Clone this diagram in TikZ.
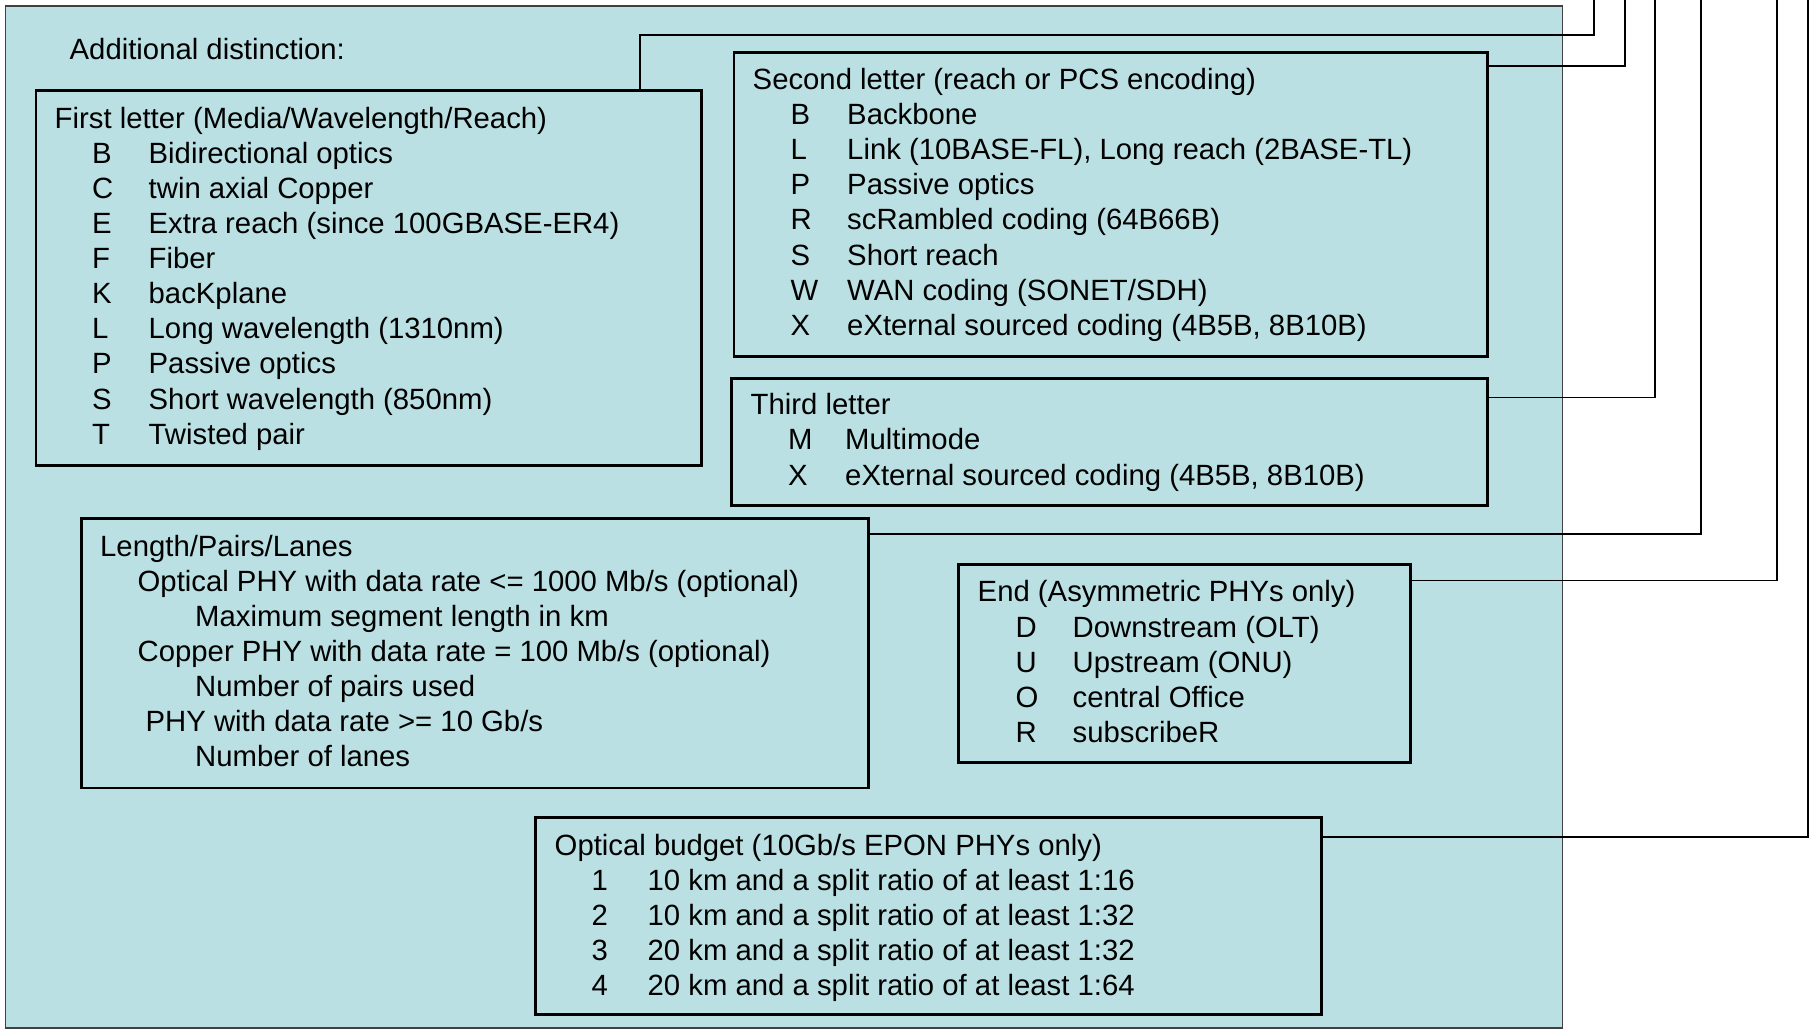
\documentclass[tikz,border=0pt]{standalone}
\usepackage{fontspec}
\setmainfont{Liberation Sans}
\definecolor{tealbg}{RGB}{186,224,227}
\begin{document}
\begin{tikzpicture}[x=1pt,y=-1pt,
  frame/.style={draw=black!75,line width=1.3pt,fill=tealbg,anchor=north west,inner sep=0pt},
  box/.style={draw=black,line width=2.6pt,fill=tealbg,anchor=north west,inner sep=0pt},
  conn/.style={draw=black,line width=1.8pt},
  txt/.style={anchor=base west,inner sep=0pt,xshift=1.5pt,font=\fontsize{29.3}{35}\selectfont}]
\useasboundingbox (0,0) rectangle (1810,1029);
% main background
\node[frame,minimum width=1557pt,minimum height=1022pt] (main) at (4.8,5.2) {};
% boxes
\node[box,minimum width=665.5pt,minimum height=375pt] (first) at (34.5,89) {};
\node[box,minimum width=753.5pt,minimum height=304pt] (second) at (732.5,51) {};
\node[box,minimum width=756pt,minimum height=127pt] (third) at (730,377) {};
\node[box,minimum width=787pt,minimum height=269.5pt] (length) at (80,517) {};
\node[box,minimum width=452pt,minimum height=198pt] (endbox) at (957,563) {};
\node[box,minimum width=786pt,minimum height=197pt] (optical) at (534,816) {};
% connector bends and free ends
\coordinate (k1) at (640,35);   \coordinate (t1) at (1594,0);
\coordinate (k2) at (1625,66);  \coordinate (t2) at (1625,0);
\coordinate (k3) at (1655,397.5); \coordinate (t3) at (1655,0);
\coordinate (k4) at (1701,534); \coordinate (t4) at (1701,0);
\coordinate (k5) at (1777,580.5); \coordinate (t5) at (1777,0);
\coordinate (k6) at (1808,837); \coordinate (t6) at (1808,0);
\draw[conn] (k1 |- first.north) -- (k1) -| (t1);
\draw[conn] (second.east |- k2) -- (k2) -- (t2);
\draw[conn] (third.east |- k3) -- (k3) -- (t3);
\draw[conn] (length.east |- k4) -- (k4) -- (t4);
\draw[conn] (endbox.east |- k5) -- (k5) -- (t5);
\draw[conn] (optical.east |- k6) -- (k6) -- (t6);
% texts
\node[txt] (add) at (68,59) {Additional distinction:};
% first letter
\node[txt] (f0) at (53,128.2) {First letter (Media/Wavelength/Reach)};
\node[txt] (f1l) at (90.5,163.3) {B}; \node[txt] (f1d) at (147,163.3) {Bidirectional optics};
\node[txt] (f2l) at (90.5,198.4) {C}; \node[txt] (f2d) at (147,198.4) {twin axial Copper};
\node[txt] (f3l) at (90.5,233.5) {E}; \node[txt] (f3d) at (147,233.5) {Extra reach (since 100GBASE-ER4)};
\node[txt] (f4l) at (90.5,268.6) {F}; \node[txt] (f4d) at (147,268.6) {Fiber};
\node[txt] (f5l) at (90.5,303.7) {K}; \node[txt] (f5d) at (147,303.7) {bacKplane};
\node[txt] (f6l) at (90.5,338.8) {L}; \node[txt] (f6d) at (147,338.8) {Long wavelength (1310nm)};
\node[txt] (f7l) at (90.5,373.9) {P}; \node[txt] (f7d) at (147,373.9) {Passive optics};
\node[txt] (f8l) at (90.5,409.0) {S}; \node[txt] (f8d) at (147,409.0) {Short wavelength (850nm)};
\node[txt] (f9l) at (90.5,444.1) {T}; \node[txt] (f9d) at (147,444.1) {Twisted pair};
% second letter
\node[txt] (s0) at (751,89.5) {Second letter (reach or PCS encoding)};
\node[txt] (s1l) at (789,124.6) {B}; \node[txt] (s1d) at (845.5,124.6) {Backbone};
\node[txt] (s2l) at (789,159.7) {L}; \node[txt] (s2d) at (845.5,159.7) {Link (10BASE-FL), Long reach (2BASE-TL)};
\node[txt] (s3l) at (789,194.8) {P}; \node[txt] (s3d) at (845.5,194.8) {Passive optics};
\node[txt] (s4l) at (789,229.9) {R}; \node[txt] (s4d) at (845.5,229.9) {scRambled coding (64B66B)};
\node[txt] (s5l) at (789,265.0) {S}; \node[txt] (s5d) at (845.5,265.0) {Short reach};
\node[txt] (s6l) at (789,300.1) {W}; \node[txt] (s6d) at (845.5,300.1) {WAN coding (SONET/SDH)};
\node[txt] (s7l) at (789,335.2) {X}; \node[txt] (s7d) at (845.5,335.2) {eXternal sourced coding (4B5B, 8B10B)};
% third letter
\node[txt] (h0) at (749,414.5) {Third letter};
\node[txt] (h1l) at (786.5,449.8) {M}; \node[txt] (h1d) at (843.5,449.8) {Multimode};
\node[txt] (h2l) at (786.5,485.0) {X}; \node[txt] (h2d) at (843.5,485.0) {eXternal sourced coding (4B5B, 8B10B)};
% length
\node[txt] (l0) at (98.5,556) {Length/Pairs/Lanes};
\node[txt] (l1) at (136,591) {Optical PHY with data rate <= 1000 Mb/s (optional)};
\node[txt] (l2) at (193.5,626) {Maximum segment length in km};
\node[txt] (l3) at (136,661) {Copper PHY with data rate = 100 Mb/s (optional)};
\node[txt] (l4) at (193.5,696) {Number of pairs used};
\node[txt] (l5) at (144,731) {PHY with data rate >= 10 Gb/s};
\node[txt] (l6) at (193.5,766) {Number of lanes};
% end
\node[txt] (e0) at (976,601.5) {End (Asymmetric PHYs only)};
\node[txt] (e1l) at (1014,637) {D}; \node[txt] (e1d) at (1071,637) {Downstream (OLT)};
\node[txt] (e2l) at (1014,672) {U}; \node[txt] (e2d) at (1071,672) {Upstream (ONU)};
\node[txt] (e3l) at (1014,707.5) {O}; \node[txt] (e3d) at (1071,707.5) {central Office};
\node[txt] (e4l) at (1014,742.5) {R}; \node[txt] (e4d) at (1071,742.5) {subscribeR};
% optical budget
\node[txt] (o0) at (553,855.7) {Optical budget (10Gb/s EPON PHYs only)};
\node[txt] (o1l) at (590,890.5) {1}; \node[txt] (o1d) at (646,890.5) {10 km and a split ratio of at least 1:16};
\node[txt] (o2l) at (590,925.3) {2}; \node[txt] (o2d) at (646,925.3) {10 km and a split ratio of at least 1:32};
\node[txt] (o3l) at (590,960.2) {3}; \node[txt] (o3d) at (646,960.2) {20 km and a split ratio of at least 1:32};
\node[txt] (o4l) at (590,995.0) {4}; \node[txt] (o4d) at (646,995.0) {20 km and a split ratio of at least 1:64};
\end{tikzpicture}
\end{document}
